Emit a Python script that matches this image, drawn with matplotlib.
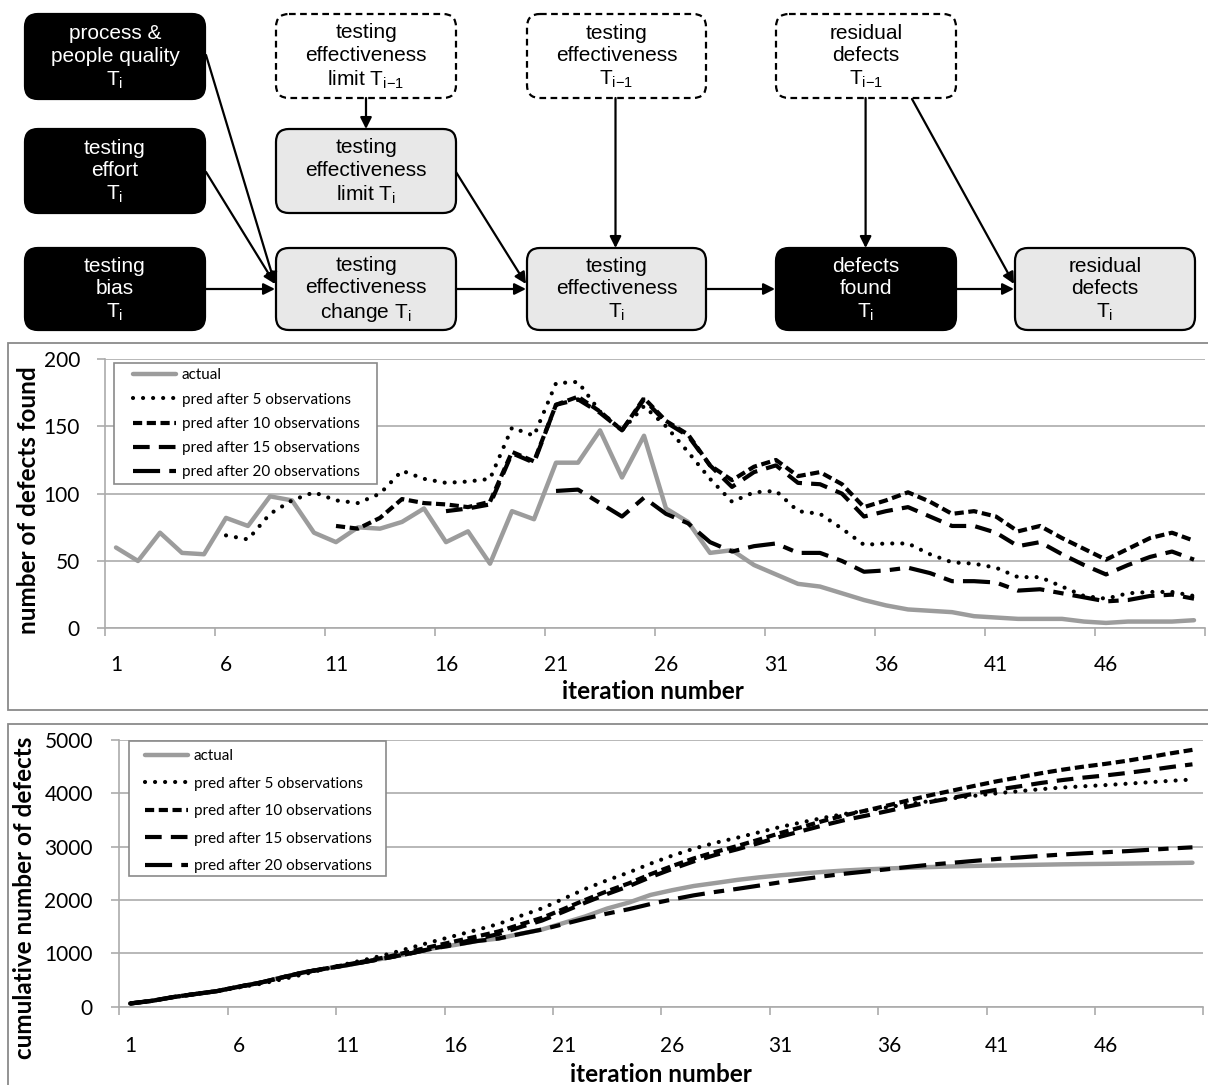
import matplotlib
matplotlib.use("Agg")
import matplotlib.pyplot as plt
from matplotlib.patches import FancyBboxPatch, Rectangle

plt.rcParams['mathtext.fontset'] = 'custom'
plt.rcParams['mathtext.rm'] = 'Liberation Sans'
plt.rcParams['mathtext.it'] = 'Liberation Sans'
plt.rcParams['mathtext.bf'] = 'Liberation Sans:bold'

# ---- data ----
iterations = list(range(1, 51))
tick_iters = [1, 6, 11, 16, 21, 26, 31, 36, 41, 46]

# defects found per iteration
actual = [60, 50, 71, 56, 55, 82, 76, 98, 95, 71, 64, 75, 74, 79, 89, 64, 72, 48, 87, 81,
          123, 123, 147, 112, 143, 89, 79, 56, 58, 47, 40, 33, 31, 26, 21, 17, 14, 13, 12, 9,
          8, 7, 7, 7, 5, 4, 5, 5, 5, 6]
pred5 = [69, 66, 85, 95, 101, 95, 93, 100, 117, 111, 108, 109, 111, 149, 143,
         182, 183, 161, 147, 165, 150, 131, 111, 94, 101, 102, 87, 85, 74, 62,
         63, 63, 55, 49, 48, 45, 38, 38, 31, 24, 22, 26, 27, 27, 24]          # from iteration 6
pred10 = [76, 74, 82, 96, 93, 92, 90, 94, 131, 124, 166, 172, 161, 147, 171, 154, 144, 121, 110, 120,
          125, 113, 116, 107, 90, 95, 101, 94, 85, 87, 83, 72, 76, 67, 59, 51, 59, 67, 71, 65]  # from 11
pred15 = [87, 89, 92, 130, 123, 166, 170, 160, 147, 170, 153, 143, 121, 105, 116, 121, 108, 107,
          100, 83, 87, 90, 83, 76, 76, 71, 61, 64, 55, 47, 40, 47, 53, 57, 51]  # from 16
pred20 = [102, 103, 93, 83, 97, 85, 78, 64, 57, 61, 63, 56, 56, 50, 42, 43, 45, 41, 35, 35,
          34, 28, 29, 26, 23, 20, 21, 24, 25, 22]  # from 21
pred_start = [6, 11, 16, 21]

# cumulative number of defects
cum_actual = [60, 110, 181, 237, 292, 374, 450, 548, 643, 714, 778, 853, 927, 1006, 1095, 1159, 1231,
              1279, 1366, 1447, 1570, 1693, 1840, 1952, 2095, 2184, 2263, 2319, 2377, 2424, 2464, 2497,
              2528, 2554, 2575, 2592, 2606, 2619, 2631, 2640, 2648, 2655, 2662, 2669, 2674, 2678, 2683,
              2688, 2693, 2699]
cum_pred5 = [60, 110, 181, 237, 292, 361, 427, 512, 607, 708, 803, 896, 996, 1113, 1224, 1332, 1441,
             1552, 1701, 1844, 2026, 2209, 2370, 2517, 2682, 2832, 2963, 3074, 3168, 3269, 3371, 3458,
             3543, 3617, 3679, 3742, 3805, 3860, 3909, 3957, 4002, 4040, 4078, 4109, 4133, 4155, 4181,
             4208, 4235, 4259]
cum_pred10 = [60, 110, 181, 237, 292, 374, 450, 548, 643, 714, 790, 864, 946, 1042, 1135, 1227, 1317,
              1411, 1542, 1666, 1832, 2004, 2165, 2312, 2483, 2637, 2781, 2902, 3012, 3132, 3257, 3370,
              3486, 3593, 3683, 3778, 3879, 3973, 4058, 4145, 4228, 4300, 4376, 4443, 4502, 4553, 4612,
              4679, 4750, 4815]
cum_pred15 = [60, 110, 181, 237, 292, 374, 450, 548, 643, 714, 778, 853, 927, 1006, 1095, 1182, 1271,
              1363, 1493, 1616, 1782, 1952, 2112, 2259, 2429, 2582, 2725, 2846, 2951, 3067, 3188, 3296,
              3403, 3503, 3586, 3673, 3763, 3846, 3922, 3998, 4069, 4130, 4194, 4249, 4296, 4336, 4383,
              4436, 4493, 4544]
cum_pred20 = [60, 110, 181, 237, 292, 374, 450, 548, 643, 714, 778, 853, 927, 1006, 1095, 1159, 1231,
              1279, 1366, 1447, 1549, 1652, 1745, 1828, 1925, 2010, 2088, 2152, 2209, 2270, 2333, 2389,
              2445, 2495, 2537, 2580, 2625, 2666, 2701, 2736, 2770, 2798, 2827, 2853, 2876, 2896, 2917,
              2941, 2966, 2988]

labels = ["actual", "pred after 5 observations", "pred after 10 observations",
          "pred after 15 observations", "pred after 20 observations"]

# ---- figure ----
W, H = 1208, 1085
fig = plt.figure(figsize=(W / 100, H / 100), dpi=100)
bg = fig.add_axes([0, 0, 1, 1])
bg.set_xlim(0, W)
bg.set_ylim(H, 0)
bg.axis('off')

# diagram: boxes (x0, y0, x1, y1, text, kind)
sub_i = r"T$_{\mathrm{i}}$"
sub_i1 = r"T$_{\mathrm{i{-}1}}$"
boxes = [
    (25, 14, 205, 99, "process &\npeople quality\n" + sub_i, "black"),
    (25, 129, 205, 213, "testing\neffort\n" + sub_i, "black"),
    (25, 248, 205, 330, "testing\nbias\n" + sub_i, "black"),
    (276, 14, 456, 98, "testing\neffectiveness\nlimit " + sub_i1, "dashed"),
    (276, 129, 456, 213, "testing\neffectiveness\nlimit " + sub_i, "gray"),
    (276, 248, 456, 330, "testing\neffectiveness\nchange " + sub_i, "gray"),
    (527, 14, 706, 98, "testing\neffectiveness\n" + sub_i1, "dashed"),
    (527, 248, 706, 330, "testing\neffectiveness\n" + sub_i, "gray"),
    (776, 14, 956, 98, "residual\ndefects\n" + sub_i1, "dashed"),
    (776, 248, 956, 330, "defects\nfound\n" + sub_i, "black"),
    (1015, 248, 1195, 330, "residual\ndefects\n" + sub_i, "gray"),
]
for x0, y0, x1, y1, txt, kind in boxes:
    if kind == "black":
        fc, ec, ls, tc = "black", "black", "-", "white"
    elif kind == "gray":
        fc, ec, ls, tc = "#e8e8e8", "black", "-", "black"
    else:
        fc, ec, ls, tc = "white", "black", (0, (3, 2)), "black"
    bg.add_patch(FancyBboxPatch((x0, y0), x1 - x0, y1 - y0,
                                boxstyle="round,pad=0,rounding_size=13",
                                fc=fc, ec=ec, lw=1.6, ls=ls))
    bg.text((x0 + x1) / 2, (y0 + y1) / 2 + 1, txt, ha='center', va='center', color=tc,
            fontsize=15, family='Liberation Sans', linespacing=1.22)

arrows = [
    ((206, 55), (275, 284)),
    ((206, 172), (275, 284)),
    ((206, 289), (275, 289)),
    ((366, 98), (366, 129)),
    ((456, 172), (526, 284)),
    ((456, 289), (526, 289)),
    ((615.5, 98), (615.5, 248)),
    ((706, 289), (775, 289)),
    ((865.6, 98), (865.6, 248)),
    ((912, 99), (1014, 284)),
    ((956, 289), (1014, 289)),
]
for (sx, sy), (ex, ey) in arrows:
    bg.annotate('', xy=(ex, ey), xytext=(sx, sy),
                arrowprops=dict(arrowstyle='-|>', color='black', lw=1.6,
                                mutation_scale=17, shrinkA=0, shrinkB=0))

# chart area frames
border = '#8a8a8a'
bg.add_patch(Rectangle((7.5, 342.5), 1220, 367, fc='white', ec=border, lw=1.3))
bg.add_patch(Rectangle((7.5, 723.5), 1220, 400, fc='white', ec=border, lw=1.3))

grid_c = '#ababab'
tick_font = dict(family='Lato', size=15)
lab_font = dict(family='Lato', size=17.5, weight='bold')
lw = 3.0
styles = [
    dict(color='#9c9c9c', lw=3.2, ls='-', solid_capstyle='round'),
    dict(color='black', lw=lw, ls=(0, (0.01, 2.4)), dash_capstyle='round'),
    dict(color='black', lw=lw, ls=(0, (2.2, 1.1))),
    dict(color='black', lw=lw, ls=(0, (4.0, 2.2))),
    dict(color='black', lw=lw, ls=(0, (6.5, 2.2, 2.5, 2.2))),
]


def style_axes(ax, ymax, ystep, ypad, xpad):
    ax.set_facecolor('none')
    ax.set_xlim(0.5, 50.5)
    ax.set_ylim(0, ymax)
    for s in ('top', 'right'):
        ax.spines[s].set_visible(False)
    for s in ('left', 'bottom'):
        ax.spines[s].set_color(grid_c)
        ax.spines[s].set_linewidth(1.2)
    ax.set_xticks([i - 0.5 for i in range(1, 52, 5)])
    ax.set_xticklabels([])
    ax.set_xticks(tick_iters, minor=True)
    ax.set_xticklabels([str(t) for t in tick_iters], minor=True, fontdict=tick_font)
    ax.tick_params(axis='x', which='major', length=6, width=1.2, color=grid_c, direction='out')
    ax.tick_params(axis='x', which='minor', length=0, pad=xpad)
    ax.set_yticks(range(0, ymax + 1, ystep))
    ax.set_yticklabels([str(v) for v in range(0, ymax + 1, ystep)], fontdict=tick_font)
    ax.tick_params(axis='y', length=5.5, width=1.2, color=grid_c, pad=ypad)
    ax.yaxis.grid(True, color=grid_c, lw=1.2)
    ax.set_axisbelow(True)


def add_legend(ax, handles, frame, anchor, spacing):
    fx0, fy0, fx1, fy1 = frame
    ax.add_patch(Rectangle((fx0 / W, 1 - fy1 / H), (fx1 - fx0) / W, (fy1 - fy0) / H,
                           transform=fig.transFigure, fc='white', ec=border, lw=1.2,
                           clip_on=False, zorder=4))
    leg = ax.legend(handles, labels, loc='upper left', bbox_to_anchor=(anchor[0] / W, 1 - anchor[1] / H),
                    bbox_transform=fig.transFigure, frameon=False, borderpad=0, borderaxespad=0,
                    handlelength=2.8, handletextpad=0.4, labelspacing=spacing,
                    prop=dict(family='Lato', size=11))
    leg.set_zorder(5)


# top chart: defects found per iteration
ax1 = fig.add_axes([105 / W, 1 - 628.3 / H, 1100 / W, (628.3 - 359) / H])
style_axes(ax1, 200, 50, 12.5, 19)
h1 = [ax1.plot(iterations, actual, **styles[0])[0]]
for vals, start, st in zip([pred5, pred10, pred15, pred20], pred_start, styles[1:]):
    h1.append(ax1.plot(iterations[start - 1:], vals, **st)[0])
ax1.set_xlabel("iteration number", fontdict=lab_font)
ax1.xaxis.set_label_coords(653 / W, 1 - 680 / H, transform=fig.transFigure)
ax1.set_ylabel("number of defects found", fontdict=lab_font)
ax1.yaxis.set_label_coords(40 / W, 1 - 500 / H, transform=fig.transFigure)
add_legend(ax1, h1, (114.3, 362.7, 376.7, 484), (133, 368.5), 0.67)

# bottom chart: cumulative defects
ax2 = fig.add_axes([119.3 / W, 1 - 1006.7 / H, 1084 / W, (1006.7 - 740) / H])
style_axes(ax2, 5000, 1000, 13.5, 21)
h2 = []
for vals, st in zip([cum_actual, cum_pred5, cum_pred10, cum_pred15, cum_pred20], styles):
    h2.append(ax2.plot(iterations, vals, **st)[0])
ax2.set_xlabel("iteration number", fontdict=lab_font)
ax2.xaxis.set_label_coords(661 / W, 1 - 1063 / H, transform=fig.transFigure)
ax2.set_ylabel("cumulative number of defects", fontdict=lab_font)
ax2.yaxis.set_label_coords(36 / W, 1 - 898 / H, transform=fig.transFigure)
add_legend(ax2, h2, (129.3, 740.7, 386, 876), (145, 749), 0.89)

fig.savefig("out.png", dpi=100)
